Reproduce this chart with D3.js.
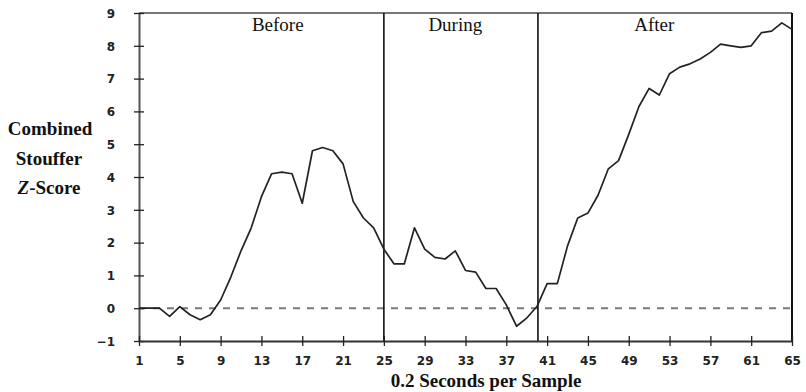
<!DOCTYPE html>
<html>
<head>
<meta charset="utf-8">
<script src="https://cdn.jsdelivr.net/npm/d3@7"></script>
<style>
  html, body { margin: 0; padding: 0; background: #fff; }
  svg { display: block; }
</style>
</head>
<body>
<svg id="chart" width="806" height="392"></svg>
<script>
// ---- data ----
const samples = d3.range(1, 66);
const zScores = [
  0, 0, 0, -0.25, 0.05, -0.2, -0.35, -0.2, 0.25, 0.95,
  1.75, 2.45, 3.4, 4.1, 4.15, 4.1, 3.2, 4.8, 4.9, 4.8,
  4.4, 3.25, 2.75, 2.45, 1.8, 1.35, 1.35, 2.45, 1.8, 1.55,
  1.5, 1.75, 1.15, 1.1, 0.6, 0.6, 0.1, -0.55, -0.3, 0.05,
  0.75, 0.75, 1.9, 2.75, 2.9, 3.45, 4.25, 4.5, 5.3, 6.15,
  6.7, 6.5, 7.15, 7.35, 7.45, 7.6, 7.8, 8.05, 8.0, 7.95,
  8.0, 8.4, 8.45, 8.7, 8.5
];
const xTicks = [1, 5, 9, 13, 17, 21, 25, 29, 33, 37, 41, 45, 49, 53, 57, 61, 65];
const yTicks = [-1, 0, 1, 2, 3, 4, 5, 6, 7, 8, 9];
const phaseBounds = [25, 40.1];
const phases = [
  { label: "Before", start: 1, end: 25 },
  { label: "During", start: 25, end: 40 },
  { label: "After", start: 40, end: 65 }
];
const phaseCenters = [14.6, 32, 51.5];
const yLabelLines = ["Combined", "Stouffer", "Z-Score"];
const xTitle = "0.2 Seconds per Sample";

// ---- layout ----
const svg = d3.select("#chart");
const x = d3.scaleLinear().domain([1, 65]).range([139, 792]);
const y = d3.scaleLinear().domain([-1, 9]).range([341, 13]);
const serif = "'Liberation Serif', 'Times New Roman', serif";
const sans = "'DejaVu Sans', Verdana, sans-serif";

// frame: top and right
svg.append("line").attr("x1", x(1)).attr("x2", x(65)).attr("y1", y(9)).attr("y2", y(9))
  .attr("stroke", "#777").attr("stroke-width", 2);
svg.append("line").attr("x1", x(65)).attr("x2", x(65)).attr("y1", y(9)).attr("y2", y(-1))
  .attr("stroke", "#111").attr("stroke-width", 2);

// zero dashed line
svg.append("line").attr("x1", x(1)).attr("x2", x(65)).attr("y1", y(0)).attr("y2", y(0))
  .attr("stroke", "#7a7a7a").attr("stroke-width", 2).attr("stroke-dasharray", "7,7");

// phase dividers
svg.selectAll("line.div").data(phaseBounds).enter().append("line")
  .attr("class", "div")
  .attr("x1", d => x(d)).attr("x2", d => x(d))
  .attr("y1", y(9)).attr("y2", y(-1))
  .attr("stroke", "#111").attr("stroke-width", 1.6);

// y axis
const yAxis = svg.append("g").attr("transform", `translate(${x(1)},0)`)
  .call(d3.axisLeft(y).tickValues(yTicks).tickSizeInner(5).tickSizeOuter(0).tickFormat(d3.format("d")));
yAxis.select(".domain").attr("stroke", "#555").attr("stroke-width", 2);
yAxis.selectAll(".tick line").attr("x1", 5).attr("stroke", "#222").attr("stroke-width", 1.3);
yAxis.selectAll(".tick text").attr("x", -24).attr("dy", "0.36em")
  .attr("font-family", sans).attr("font-weight", "bold").attr("font-size", 12).attr("fill", "#222");

// x axis
const xAxis = svg.append("g").attr("transform", `translate(0,${y(-1)})`)
  .call(d3.axisBottom(x).tickValues(xTicks).tickSizeInner(5).tickSizeOuter(0).tickFormat(d3.format("d")));
xAxis.select(".domain").attr("stroke", "#333").attr("stroke-width", 2);
xAxis.selectAll(".tick line").attr("y1", -5).attr("stroke", "#222").attr("stroke-width", 1.3);
xAxis.selectAll(".tick text").attr("y", 15).attr("dy", "0.71em")
  .attr("font-family", sans).attr("font-weight", "bold").attr("font-size", 12).attr("fill", "#222");

// data line
const line = d3.line().x((d, i) => x(samples[i])).y(d => y(d));
svg.append("path").datum(zScores).attr("d", line)
  .attr("fill", "none").attr("stroke", "#222").attr("stroke-width", 1.7)
  .attr("stroke-linejoin", "round");

// phase labels
svg.selectAll("text.phase").data(phases).enter().append("text")
  .attr("class", "phase")
  .attr("x", (d, i) => x(phaseCenters[i]))
  .attr("y", 31)
  .attr("text-anchor", "middle")
  .attr("font-family", serif).attr("font-size", 19).attr("fill", "#111")
  .text(d => d.label);

// y label
const yl = svg.append("text").attr("font-family", serif).attr("font-weight", "bold")
  .attr("font-size", 19).attr("fill", "#111").attr("text-anchor", "middle");
yl.append("tspan").attr("x", 50).attr("y", 135).text(yLabelLines[0]);
yl.append("tspan").attr("x", 49).attr("y", 165).text(yLabelLines[1]);
const z = yl.append("tspan").attr("x", 49).attr("y", 194);
z.append("tspan").attr("font-style", "italic").text(yLabelLines[2].slice(0, 1));
z.append("tspan").text(yLabelLines[2].slice(1));

// x title
svg.append("text").attr("x", 486).attr("y", 387).attr("text-anchor", "middle")
  .attr("font-family", serif).attr("font-weight", "bold").attr("font-size", 19).attr("fill", "#111")
  .text(xTitle);
</script>
</body>
</html>
